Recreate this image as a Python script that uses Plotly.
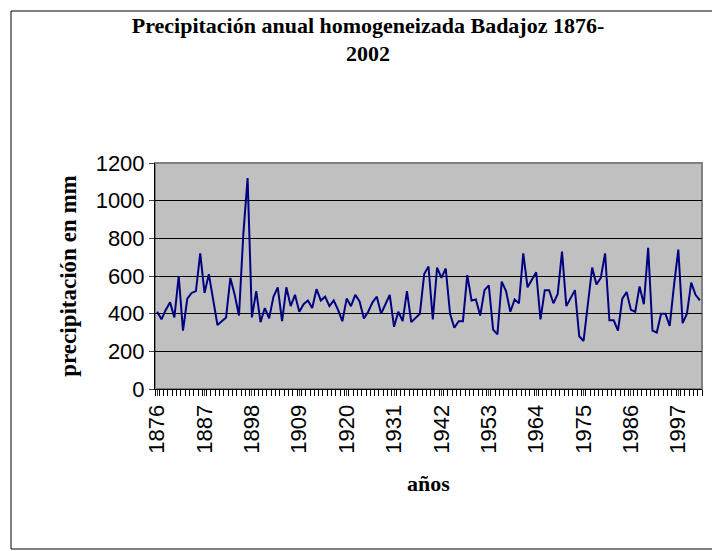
import plotly.graph_objects as go

years = list(range(1876, 2003))
precip = [
    410, 370, 420, 460, 380, 600, 310, 480, 510, 520,
    720, 510, 610, 480, 340, 360, 380, 590, 500, 390,
    820, 1120, 380, 520, 355, 430, 375, 490, 540, 360,
    540, 440, 500, 410, 450, 470, 430, 530, 470, 490,
    440, 470, 420, 360, 480, 440, 500, 465, 375, 410,
    460, 490, 400, 450, 500, 330, 410, 360, 520, 355,
    380, 400, 610, 650, 370, 645, 590, 640, 400, 325,
    360, 360, 605, 470, 475, 390, 525, 550, 315, 290,
    570, 520, 410, 475, 455, 720, 540, 580, 620, 370,
    525, 525, 455, 505, 730, 440, 480, 525, 280, 255,
    450, 645, 555, 590, 720, 365, 365, 310, 480, 515,
    420, 410, 545, 450, 750, 310, 300, 400, 400, 335,
    550, 740, 350, 400, 565, 500, 470,
]
tick_years = list(range(1876, 2003, 11))

W, H = 720, 551
L, R, T, B = 147, 26, 155, 170
pw, ph = W - L - R, H - T - B

fig = go.Figure(go.Scatter(x=years, y=precip, mode="lines",
                           line=dict(color="#000080", width=2)))

fig.update_layout(
    width=W, height=H, margin=dict(l=L, r=R, t=T, b=B, autoexpand=False),
    paper_bgcolor="white", plot_bgcolor="#C0C0C0", showlegend=False,
    title=dict(text="<b>Precipitación anual homogeneizada Badajoz 1876-<br>2002</b>",
               x=0.5, xanchor="center", y=0.955, yanchor="top",
               font=dict(family="Liberation Serif", size=22, color="black")),
    font=dict(family="Liberation Sans", color="black"),
)
fig.update_xaxes(range=[1875.5, 2002.5], tickvals=tick_years, tickangle=-90,
                 tickfont=dict(size=22), ticks="outside", ticklen=6, automargin=False,
                 minor=dict(dtick=1, tick0=1875.5, ticks="outside", ticklen=6, tickcolor="black"),
                 showgrid=False, showline=True, linecolor="black", zeroline=False,
                 title=dict(text="<b>años</b>", standoff=22,
                            font=dict(family="Liberation Serif", size=22)))
fig.update_yaxes(range=[0, 1200], dtick=200, tickfont=dict(size=22), automargin=False,
                 ticks="outside", ticklen=5, showgrid=True, gridcolor="black",
                 gridwidth=1, showline=True, linecolor="black", zeroline=False,
                 title=dict(text="<b>precipitación en mm</b>", standoff=12,
                            font=dict(family="Liberation Serif", size=23)))
# gray plot-area frame on top/right
fig.add_shape(type="rect", xref="paper", yref="paper", x0=0, x1=1, y0=0, y1=1,
              line=dict(color="#808080", width=2), layer="below")
# outer chart border
fig.add_shape(type="rect", xref="paper", yref="paper",
              x0=(3 - L) / pw, x1=(716 - L) / pw,
              y0=(T + ph - 541) / ph, y1=(T + ph - 3) / ph,
              line=dict(color="black", width=1))

fig.write_html("out.html")
